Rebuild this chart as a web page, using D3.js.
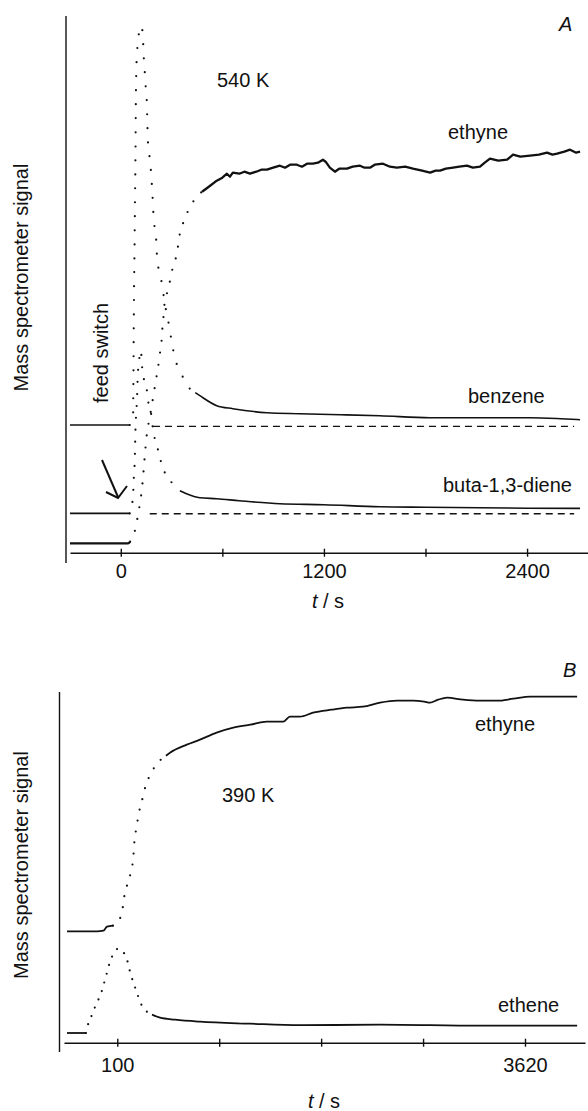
<!DOCTYPE html>
<html>
<head>
<meta charset="utf-8">
<script src="https://cdn.jsdelivr.net/npm/d3@7/dist/d3.min.js"></script>
<style>
  html, body { margin: 0; padding: 0; background: #fff; }
  svg { display: block; }
  text { font-family: "Liberation Sans", Arial, Helvetica, sans-serif; fill: #111; }
</style>
</head>
<body>
<svg id="chart" width="588" height="1111"></svg>
<script>
// ---------------- DATA ----------------
// Panel A (540 K): x ticks (s)
const ticksA = [0, 600, 1200, 1800, 2400];
const tickLabelsA = ["0", "", "1200", "", "2400"];
// Panel B (390 K): x ticks (s)
const ticksB = [100, 980, 1860, 2740, 3620];
const tickLabelsB = ["100", "", "", "", "3620"];

// Panel A series: [time (s), signal (arb. units, traces offset)]
const ethyneA = [[-300,9.3],[43,9.3],[55,11],[73,18.7],[89,25],[102,38.7],[116,52],[128,69],[138,89],[146,105],[155,120],[171,135],[181,145],[207,172],[220,185],[231,199],[241,212],[246,225],[254,239],[260,252],[278,262],[307,285],[331,299],[349,319],[367,329],[390,339],[420,349],[450,356],[480,361],[520,366],[567,372],[600,375],[627,379],[645,376],[662,380],[700,379],[730,381],[763,379],[800,381],[830,383],[863,383],[900,385],[940,387],[970,385],[1000,388],[1040,388],[1070,386],[1100,389],[1135,389],[1165,390],[1194,393],[1210,391],[1235,385],[1265,381],[1290,384],[1336,384],[1370,386],[1413,387],[1440,385],[1472,385],[1500,388],[1549,389],[1590,386],[1631,385],[1680,386],[1726,384],[1780,382],[1827,380],[1860,382],[1886,382],[1920,384],[1963,385],[2000,386],[2045,387],[2080,385],[2122,386],[2150,390],[2181,394],[2230,392],[2282,393],[2317,398],[2360,396],[2418,397],[2470,398],[2518,400],[2550,398],[2577,399],[2620,401],[2654,403],[2690,400],[2713,401]];
const benzeneA = [[-300,127.7],[53,127.7],[65,129],[73,139],[74,162],[75,182],[76,210],[77,232],[78,257],[81,302],[84,352],[87,402],[89,452],[92,484],[97,502],[108,520],[122,527],[130,517],[136,495],[142,480],[148,464],[154,450],[157,430],[160,412],[166,402],[177,384],[189,352],[195,332],[207,319],[213,299],[225,282],[242,270],[260,249],[280,232],[300,212],[319,195],[349,182],[378,172],[408,164],[440,160],[467,157],[567,147],[662,144],[863,140],[1058,139],[1300,138],[1531,137],[1827,135],[2100,135],[2418,135],[2600,134],[2713,133]];
const butadieneA = [[-300,39.3],[53,39.3],[63,45],[73,59],[77,75],[83,95],[85,112],[96,155],[100,175],[110,195],[118,202],[128,182],[136,174],[152,165],[161,152],[171,145],[181,137],[191,122],[211,109],[231,95],[248,85],[278,75],[307,69],[349,62],[388,59],[467,55],[567,54],[700,52],[940,49],[1200,48],[1531,46],[1800,45.5],[2122,45],[2400,44.5],[2713,44.3]];
const benzeneBaseA = [[190,126.3],[2678,126.3]];
const butadieneBaseA = [[171,39],[2678,39]];

// Panel B series
const ethyneB = [[-334,111.3],[-75,111.3],[-20,112],[11,116],[63,117],[106,121],[141,131],[166,150],[192,160],[218,171],[238,185],[247,200],[267,216],[287,230],[311,241],[331,251],[354,260],[376,266],[397,271],[425,276],[454,280],[483,284],[520,287],[555,290],[700,298],[814,303],[958,310],[1102,315],[1250,318],[1390,321],[1533,321],[1591,326],[1677,326],[1790,330],[1950,333],[2083,335],[2221,336],[2368,340],[2515,342],[2655,342],[2750,341],[2800,340],[2870,343],[2947,345],[3085,343],[3230,342],[3379,342],[3520,344],[3664,346],[3800,346],[3949,346],[4070,346]];
const etheneB = [[-334,9.7],[-170,9.7],[-153,18],[-110,30],[-75,41],[-49,46],[-23,56],[11,70],[37,81],[63,88],[85,92],[106,94],[130,93],[149,91],[184,83],[210,71],[236,61],[270,50],[296,41],[339,33],[400,28],[469,25],[600,23],[814,21],[1246,19],[1677,17.5],[2368,18],[3231,17],[4070,17]];

// time windows drawn as separate dots (fast-changing parts of each trace)
const dotWindows = {
  ethyneA: [55, 480], benzeneA: [53, 440], butadieneA: [53, 349],
  ethyneB: [63, 520], etheneB: [-170, 400]
};

// ---------------- DRAW ----------------
const svg = d3.select("#chart");
svg.append("rect").attr("width", 588).attr("height", 1111).attr("fill", "#fff");
const INK = "#111";

const xA = d3.scaleLinear().domain([-300, 2760]).range([70, 588]);
const yA = d3.scaleLinear().domain([0, 540]).range([552.7, 12.7]);
const xB = d3.scaleLinear().domain([-360, 4138]).range([64, 585]);
const yB = d3.scaleLinear().domain([0, 360]).range([1042.7, 682.7]);

function drawSeries(g, data, xs, ys, win, sw, gap, noisyTail) {
  const smooth = d3.line().x(d => xs(d[0])).y(d => ys(d[1])).curve(d3.curveMonotoneX);
  const jag = d3.line().x(d => xs(d[0])).y(d => ys(d[1])).curve(d3.curveLinear);
  const [t0, t1] = win;
  const pre = data.filter(d => d[0] <= t0);
  const mid = data.filter(d => d[0] >= t0 && d[0] <= t1);
  const post = data.filter(d => d[0] >= t1);
  if (pre.length > 1) g.append("path").attr("d", smooth(pre)).attr("fill", "none").attr("stroke", INK).attr("stroke-width", sw).attr("stroke-linejoin", "round");
  if (mid.length > 1) g.append("path").attr("d", smooth(mid)).attr("fill", "none").attr("stroke", INK).attr("stroke-width", 2.2).attr("stroke-linecap", "round").attr("stroke-dasharray", "0 " + gap);
  if (post.length > 1) g.append("path").attr("d", (noisyTail ? jag : smooth)(post)).attr("fill", "none").attr("stroke", INK).attr("stroke-width", sw).attr("stroke-linejoin", "round");
}
function drawDashed(g, data, xs, ys) {
  const line = d3.line().x(d => xs(d[0])).y(d => ys(d[1]));
  g.append("path").attr("d", line(data)).attr("fill", "none").attr("stroke", INK).attr("stroke-width", 1.4).attr("stroke-dasharray", "7 5");
}
function styleAxis(ax) {
  ax.select(".domain").attr("stroke", INK).attr("stroke-width", 1.4);
  ax.selectAll(".tick line").attr("stroke", INK).attr("stroke-width", 1.4).attr("y1", -4).attr("y2", 4);
  ax.selectAll(".tick text").attr("font-size", 20).attr("font-family", '"Liberation Sans", Arial, sans-serif').attr("fill", INK);
  ax.attr("font-family", null).attr("font-size", null);
}

// ---- Panel A ----
const gA = svg.append("g");
gA.append("line").attr("x1", 66).attr("x2", 66).attr("y1", yA(536.7)).attr("y2", yA(-10.3)).attr("stroke", INK).attr("stroke-width", 1.4);
const axA = gA.append("g").attr("transform", `translate(0,${yA(0)})`)
  .call(d3.axisBottom(xA).tickValues(ticksA).tickFormat((d, i) => tickLabelsA[i]).tickSizeInner(4).tickSizeOuter(0).tickPadding(7));
styleAxis(axA);

drawDashed(gA, benzeneBaseA, xA, yA);
drawDashed(gA, butadieneBaseA, xA, yA);
drawSeries(gA, benzeneA, xA, yA, dotWindows.benzeneA, 1.6, 14, false);
drawSeries(gA, butadieneA, xA, yA, dotWindows.butadieneA, 1.6, 12, false);
drawSeries(gA, ethyneA, xA, yA, dotWindows.ethyneA, 2.3, 12, true);

gA.append("text").attr("x", 217).attr("y", 87).attr("font-size", 20).text("540 K");
gA.append("text").attr("x", 559).attr("y", 31).attr("font-size", 20).attr("font-style", "italic").text("A");
gA.append("text").attr("x", 448).attr("y", 139).attr("font-size", 20).text("ethyne");
gA.append("text").attr("x", 468).attr("y", 403).attr("font-size", 20).text("benzene");
gA.append("text").attr("x", 443).attr("y", 492).attr("font-size", 20).text("buta-1,3-diene");
gA.append("text").attr("transform", "translate(108,403) rotate(-90)").attr("font-size", 20).text("feed switch");
gA.append("text").attr("transform", "translate(28,277.5) rotate(-90)").attr("text-anchor", "middle").attr("font-size", 20).text("Mass spectrometer signal");
const tsA = gA.append("text").attr("x", 328).attr("y", 608).attr("text-anchor", "middle").attr("font-size", 20);
tsA.append("tspan").attr("font-style", "italic").text("t");
tsA.append("tspan").text(" / s");
// arrow marking the feed switch
gA.append("line").attr("x1", 102).attr("y1", 460).attr("x2", 118).attr("y2", 497).attr("stroke", INK).attr("stroke-width", 2);
gA.append("path").attr("d", "M106,492 L118,498 L127,486").attr("fill", "none").attr("stroke", INK).attr("stroke-width", 2).attr("stroke-linejoin", "miter");

// ---- Panel B ----
const gB = svg.append("g");
gB.append("line").attr("x1", 59.5).attr("x2", 59.5).attr("y1", 692).attr("y2", 1052).attr("stroke", INK).attr("stroke-width", 1.4);
const axB = gB.append("g").attr("transform", `translate(0,${yB(0)})`)
  .call(d3.axisBottom(xB).tickValues(ticksB).tickFormat((d, i) => tickLabelsB[i]).tickSizeInner(4).tickSizeOuter(0).tickPadding(10.8));
styleAxis(axB);

drawSeries(gB, ethyneB, xB, yB, dotWindows.ethyneB, 1.8, 11, false);
drawSeries(gB, etheneB, xB, yB, dotWindows.etheneB, 1.8, 9, false);

gB.append("text").attr("x", 222).attr("y", 802).attr("font-size", 20).text("390 K");
gB.append("text").attr("x", 563).attr("y", 677).attr("font-size", 20).attr("font-style", "italic").text("B");
gB.append("text").attr("x", 475).attr("y", 731).attr("font-size", 20).text("ethyne");
gB.append("text").attr("x", 498).attr("y", 1012).attr("font-size", 20).text("ethene");
gB.append("text").attr("transform", "translate(28,865) rotate(-90)").attr("text-anchor", "middle").attr("font-size", 20).text("Mass spectrometer signal");
const tsB = gB.append("text").attr("x", 324).attr("y", 1108).attr("text-anchor", "middle").attr("font-size", 20);
tsB.append("tspan").attr("font-style", "italic").text("t");
tsB.append("tspan").text(" / s");
</script>
</body>
</html>
